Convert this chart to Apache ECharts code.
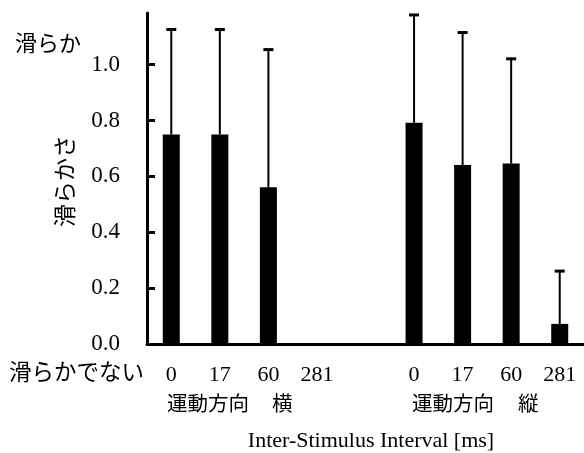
<!DOCTYPE html>
<html>
<head>
<meta charset="utf-8">
<script src="https://cdn.jsdelivr.net/npm/echarts@6/dist/echarts.min.js"></script>
<style>html,body{margin:0;padding:0;background:#fff;}#c{width:584px;height:453px;}</style>
</head>
<body>
<div id="c"></div>
<script>
const categories = ['0', '17', '60', '281', '', '0', '17', '60', '281'];
const means = [0.750, 0.750, 0.561, 0.0, null, 0.792, 0.641, 0.646, 0.072];
const upper = [1.126, 1.126, 1.054, null, null, 1.178, 1.115, 1.021, 0.261];
const yTicks = [0, 0.2, 0.4, 0.6, 0.8, 1.0];

const errData = [];
means.forEach((m, i) => { if (m !== null && upper[i] !== null) errData.push([i, m, upper[i]]); });

const serif = '"Liberation Serif", "Times New Roman", serif';
const jp = '"Noto Sans CJK JP", sans-serif';

const chart = echarts.init(document.getElementById('c'));
chart.setOption({
  animation: false,
  backgroundColor: '#fff',
  grid: { left: 147, top: 13, bottom: 109, right: -3, containLabel: false },
  xAxis: {
    type: 'category',
    data: categories,
    axisLine: { lineStyle: { color: '#000', width: 3 } },
    axisTick: { show: false },
    axisLabel: { color: '#000', fontFamily: serif, fontSize: 22, margin: 20, interval: 0 },
    splitLine: { show: false }
  },
  yAxis: {
    type: 'value',
    min: 0, max: 1.185, interval: 0.2,
    axisLine: { show: true, lineStyle: { color: '#000', width: 3 } },
    axisTick: { show: true, inside: true, length: 8, lineStyle: { color: '#000', width: 3 }, customValues: yTicks },
    axisLabel: { color: '#000', fontFamily: serif, fontSize: 23, margin: 27, customValues: yTicks, formatter: v => v.toFixed(1) },
    splitLine: { show: false }
  },
  series: [
    { type: 'bar', data: means, barWidth: 17, itemStyle: { color: '#000' }, z: 2 },
    {
      type: 'custom', data: errData, z: 3,
      encode: { x: 0, y: [1, 2] },
      renderItem: function (params, api) {
        const x = api.value(0);
        const p0 = api.coord([x, api.value(1)]);
        const p1 = api.coord([x, api.value(2)]);
        return {
          type: 'group',
          children: [
            { type: 'line', shape: { x1: p0[0], y1: p0[1], x2: p1[0], y2: p1[1] }, style: { stroke: '#000', lineWidth: 2 } },
            { type: 'line', shape: { x1: p1[0] - 5, y1: p1[1], x2: p1[0] + 5, y2: p1[1] }, style: { stroke: '#000', lineWidth: 3 } }
          ]
        };
      }
    }
  ],
  graphic: [
    { type: 'text', x: 15, y: 43, style: { text: '滑らか', font: '22px ' + jp, fill: '#000', align: 'left', verticalAlign: 'middle' } },
    { type: 'text', x: 9, y: 371, style: { text: '滑らかでない', font: '22.5px ' + jp, fill: '#000', align: 'left', verticalAlign: 'middle' } },
    { type: 'text', x: 64, y: 181, rotation: Math.PI / 2, style: { text: '滑らかさ', font: '23px ' + jp, fill: '#000', align: 'center', verticalAlign: 'middle' } },
    { type: 'text', x: 167, y: 403, style: { text: '運動方向', font: '20.5px ' + jp, fill: '#000', align: 'left', verticalAlign: 'middle' } },
    { type: 'text', x: 272, y: 403, style: { text: '横', font: '20.5px ' + jp, fill: '#000', align: 'left', verticalAlign: 'middle' } },
    { type: 'text', x: 412, y: 403, style: { text: '運動方向', font: '20.5px ' + jp, fill: '#000', align: 'left', verticalAlign: 'middle' } },
    { type: 'text', x: 518, y: 403, style: { text: '縦', font: '20.5px ' + jp, fill: '#000', align: 'left', verticalAlign: 'middle' } },
    { type: 'text', x: 371, y: 441, style: { text: 'Inter-Stimulus Interval [ms]', font: '22px ' + serif, fill: '#000', align: 'center', verticalAlign: 'middle' } }
  ]
});
</script>
</body>
</html>
